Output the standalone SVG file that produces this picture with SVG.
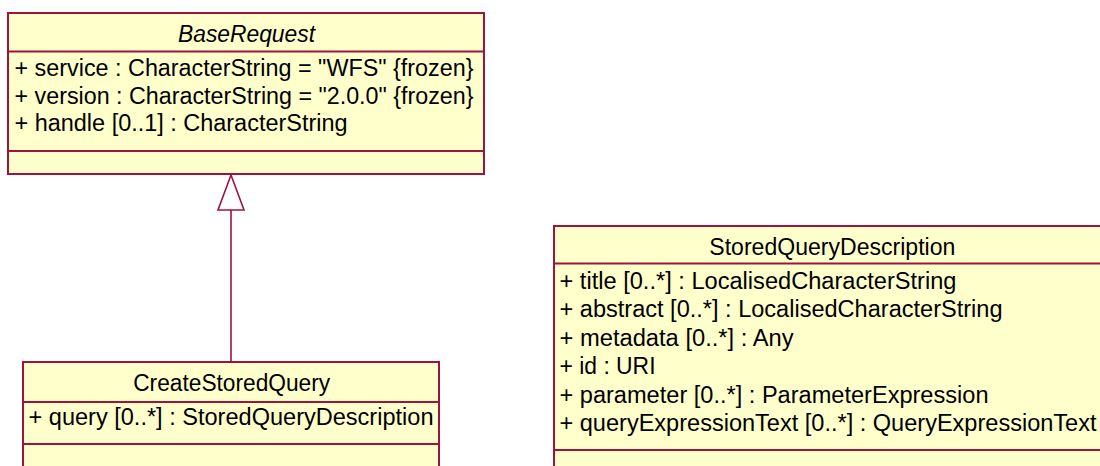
<svg xmlns="http://www.w3.org/2000/svg" width="1100" height="466" viewBox="0 0 1100 466">
<style>
.box{fill:#FFFFCC;stroke:#9E1340;stroke-width:2}
.sep{stroke:#9E1340;stroke-width:2;fill:none}
.t{font-family:"Liberation Sans",Arial,sans-serif;font-size:23.5px;fill:#000}
.h{text-anchor:middle}
.i{font-style:italic}
.conn{stroke:#9E1340;stroke-width:1.6;fill:none}
</style>
<rect width="1100" height="466" fill="#fff"/>
<g id="BaseRequest">
<rect class="box" x="8" y="13" width="476" height="161"/>
<line class="sep" x1="8" y1="51.5" x2="484" y2="51.5"/>
<line class="sep" x1="8" y1="151" x2="484" y2="151"/>
<text class="t h i" x="246.5" y="42" textLength="137" lengthAdjust="spacingAndGlyphs">BaseRequest</text>
<text class="t" x="14.5" y="76" textLength="459" lengthAdjust="spacingAndGlyphs">+ service : CharacterString = "WFS" {frozen}</text>
<text class="t" x="14.5" y="103.5" textLength="459" lengthAdjust="spacingAndGlyphs">+ version : CharacterString = "2.0.0" {frozen}</text>
<text class="t" x="14.5" y="131" textLength="333" lengthAdjust="spacingAndGlyphs">+ handle [0..1] : CharacterString</text>
</g>
<g id="CreateStoredQuery">
<rect class="box" x="23" y="362" width="416" height="120"/>
<line class="sep" x1="23" y1="402" x2="439" y2="402"/>
<line class="sep" x1="23" y1="444" x2="439" y2="444"/>
<text class="t h" x="231.7" y="390.5" textLength="197" lengthAdjust="spacingAndGlyphs">CreateStoredQuery</text>
<text class="t" x="28.5" y="425" textLength="405" lengthAdjust="spacingAndGlyphs">+ query [0..*] : StoredQueryDescription</text>
</g>
<g id="StoredQueryDescription">
<rect class="box" x="554" y="226" width="570" height="260"/>
<line class="sep" x1="554" y1="263.5" x2="1124" y2="263.5"/>
<line class="sep" x1="554" y1="450" x2="1124" y2="450"/>
<text class="t h" x="832.3" y="255" textLength="246" lengthAdjust="spacingAndGlyphs">StoredQueryDescription</text>
<text class="t" x="559.5" y="288.5" textLength="397" lengthAdjust="spacingAndGlyphs">+ title [0..*] : LocalisedCharacterString</text>
<text class="t" x="559.5" y="317" textLength="443" lengthAdjust="spacingAndGlyphs">+ abstract [0..*] : LocalisedCharacterString</text>
<text class="t" x="559.5" y="345.5" textLength="234" lengthAdjust="spacingAndGlyphs">+ metadata [0..*] : Any</text>
<text class="t" x="559.5" y="374" textLength="96" lengthAdjust="spacingAndGlyphs">+ id : URI</text>
<text class="t" x="559.5" y="402.5" textLength="429" lengthAdjust="spacingAndGlyphs">+ parameter [0..*] : ParameterExpression</text>
<text class="t" x="559.5" y="431" textLength="537" lengthAdjust="spacingAndGlyphs">+ queryExpressionText [0..*] : QueryExpressionText</text>
</g>
<g id="connectors">
<line class="conn" x1="231" y1="362" x2="231" y2="210"/>
<polygon class="conn" points="231,175 218,210 244,210"/>
</g>
</svg>
